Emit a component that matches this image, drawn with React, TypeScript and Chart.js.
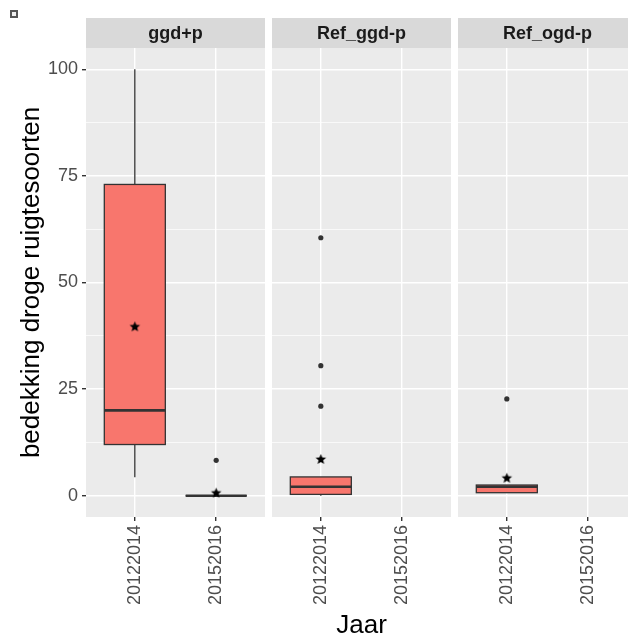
import React, { useEffect, useRef } from 'react';
import { Chart, registerables } from 'chart.js';

Chart.register(...registerables);

// ---------- data ----------
const PANELS = ['ggd+p', 'Ref_ggd-p', 'Ref_ogd-p'];
const CATEGORIES = ['20122014', '20152016'];
const Y_MAJOR_TICKS = [0, 25, 50, 75, 100];
const Y_MINOR_TICKS = [12.5, 37.5, 62.5, 87.5];
const Y_TITLE = 'bedekking droge ruigtesoorten';
const X_TITLE = 'Jaar';

// [lower whisker, Q1, median, Q3, upper whisker] per category (null = no data)
const ggdpBoxes = [[4.3, 12, 20, 73, 100], [0, 0, 0, 0, 0]];
const refGgdBoxes = [[0, 0.3, 2.1, 4.4, 4.4], null];
const refOgdBoxes = [[0.7, 0.7, 2.1, 2.5, 2.5], null];

// outliers per category
const ggdpOutliers = [[], [8.3]];
const refGgdOutliers = [[60.5, 30.5, 21], []];
const refOgdOutliers = [[22.7], []];

// means per category
const ggdpMeans = [39.6, 0.6];
const refGgdMeans = [8.5, null];
const refOgdMeans = [4.1, null];

const PANEL_BOXES = [ggdpBoxes, refGgdBoxes, refOgdBoxes];
const PANEL_OUTLIERS = [ggdpOutliers, refGgdOutliers, refOgdOutliers];
const PANEL_MEANS = [ggdpMeans, refGgdMeans, refOgdMeans];

// ---------- layout / style ----------
const W = 628;
const H = 641;
const PANEL_LEFT = [86, 272, 458];
const PANEL_W = 179;
const AXIS_W = 86;
const PANEL_TOP = 48;
const PANEL_BOTTOM = 517;
const STRIP_H = 30;
const FONT = "'Liberation Sans', Arial, sans-serif";
const BOX_FILL = '#F8766D';
const INK = '#333333';

function makeStar(r: number) {
  const c = document.createElement('canvas');
  const s = Math.ceil(r * 2 + 2);
  c.width = s;
  c.height = s;
  const ctx = c.getContext('2d')!;
  ctx.beginPath();
  for (let i = 0; i < 10; i++) {
    const a = -Math.PI / 2 + (i * Math.PI) / 5;
    const rr = i % 2 === 0 ? r : r * 0.45;
    ctx.lineTo(s / 2 + rr * Math.cos(a), s / 2 + rr * Math.sin(a));
  }
  ctx.closePath();
  ctx.fillStyle = '#000';
  ctx.fill();
  return c;
}

const panelDecor = {
  id: 'panelDecor',
  beforeDraw(chart: any, _args: any, opts: any) {
    const { ctx, chartArea } = chart;
    ctx.save();
    ctx.fillStyle = '#EBEBEB';
    ctx.fillRect(chartArea.left, chartArea.top, chartArea.right - chartArea.left, chartArea.bottom - chartArea.top);
    ctx.fillStyle = '#D9D9D9';
    ctx.fillRect(chartArea.left, chartArea.top - STRIP_H, chartArea.right - chartArea.left, STRIP_H);
    ctx.fillStyle = '#1A1A1A';
    ctx.font = `bold 18px ${FONT}`;
    ctx.textAlign = 'center';
    ctx.textBaseline = 'middle';
    ctx.fillText(opts.label, (chartArea.left + chartArea.right) / 2, chartArea.top - STRIP_H / 2 + 1);
    ctx.restore();
  },
};

const boxPlot = {
  id: 'boxPlot',
  beforeDatasetsDraw(chart: any, _args: any, opts: any) {
    const { ctx } = chart;
    const xs = chart.scales.x;
    const ys = chart.scales.y;
    const unit = xs.getPixelForValue(2) - xs.getPixelForValue(1);
    const half = unit * 0.375;
    ctx.save();
    (opts.boxes as (number[] | null)[]).forEach((b, i) => {
      if (!b) return;
      const [lo, q1, med, q3, hi] = b;
      const x = xs.getPixelForValue(i + 1);
      ctx.strokeStyle = INK;
      ctx.lineWidth = 1.3;
      ctx.beginPath();
      ctx.moveTo(x, ys.getPixelForValue(q3));
      ctx.lineTo(x, ys.getPixelForValue(hi));
      ctx.moveTo(x, ys.getPixelForValue(q1));
      ctx.lineTo(x, ys.getPixelForValue(lo));
      ctx.stroke();
      const top = ys.getPixelForValue(q3);
      const bot = ys.getPixelForValue(q1);
      ctx.fillStyle = BOX_FILL;
      ctx.fillRect(x - half, top, half * 2, bot - top);
      ctx.strokeRect(x - half, top, half * 2, bot - top);
      ctx.lineWidth = 2.6;
      ctx.beginPath();
      const my = ys.getPixelForValue(med);
      ctx.moveTo(x - half, my);
      ctx.lineTo(x + half, my);
      ctx.stroke();
    });
    ctx.restore();
  },
};

function buildChart(canvas: HTMLCanvasElement, index: number, star: HTMLCanvasElement) {
  const isFirst = index === 0;
  const outliers = PANEL_OUTLIERS[index].flatMap((vals, i) => vals.map((v) => ({ x: i + 1, y: v })));
  const means = PANEL_MEANS[index]
    .map((v, i) => (v == null ? null : { x: i + 1, y: v }))
    .filter((p) => p !== null);
  const yAll = [...Y_MAJOR_TICKS, ...Y_MINOR_TICKS].sort((a, b) => a - b);
  const isMajor = (v: number) => Y_MAJOR_TICKS.includes(v);

  return new Chart(canvas, {
    type: 'scatter',
    data: {
      datasets: [
        {
          data: outliers,
          pointRadius: 2.6,
          pointBackgroundColor: INK,
          pointBorderWidth: 0,
          pointBorderColor: INK,
        },
        {
          data: means as any,
          pointStyle: star as any,
          pointRadius: 5,
        },
      ],
    },
    options: {
      responsive: false,
      animation: false,
      layout: { autoPadding: false, padding: { top: PANEL_TOP, left: 0, right: 0, bottom: 0 } },
      plugins: {
        legend: { display: false },
        tooltip: { enabled: false },
        panelDecor: { label: PANELS[index] },
        boxPlot: { boxes: PANEL_BOXES[index] },
      } as any,
      scales: {
        x: {
          type: 'linear',
          min: 0.4,
          max: 2.6,
          afterBuildTicks: (s: any) => {
            s.ticks = CATEGORIES.map((_, i) => ({ value: i + 1 }));
          },
          afterFit: (s: any) => {
            s.height = H - PANEL_BOTTOM;
            s.paddingLeft = 0;
            s.paddingRight = 0;
          },
          ticks: {
            callback: (v: any) => CATEGORIES[Math.round(v) - 1] ?? '',
            minRotation: 90,
            maxRotation: 90,
            autoSkip: false,
            padding: 4,
            color: '#4D4D4D',
            font: { size: 18, family: FONT },
          },
          grid: { color: '#FFFFFF', lineWidth: 1.4, tickColor: INK, tickLength: 4, drawTicks: true },
          border: { display: false },
          title: {
            display: index === 1,
            text: X_TITLE,
            color: '#000',
            font: { size: 26, family: FONT },
            padding: { top: 0, bottom: 0 },
          },
        },
        y: {
          type: 'linear',
          min: -5,
          max: 105,
          afterBuildTicks: (s: any) => {
            s.ticks = yAll.map((v) => ({ value: v }));
          },
          afterFit: (s: any) => {
            s.width = isFirst ? AXIS_W : 0;
            s.paddingTop = 0;
            s.paddingBottom = 0;
          },
          ticks: {
            display: isFirst,
            autoSkip: false,
            callback: (v: any) => (isMajor(v) ? String(v) : ''),
            padding: 4,
            color: '#4D4D4D',
            font: { size: 18, family: FONT },
          },
          grid: {
            color: '#FFFFFF',
            lineWidth: (c: any) => (c.tick && isMajor(c.tick.value) ? 1.4 : 0.7),
            tickColor: (c: any) => (c.tick && isMajor(c.tick.value) ? INK : 'rgba(0,0,0,0)'),
            tickLength: 4,
            drawTicks: isFirst,
          },
          border: { display: false },
          title: {
            display: isFirst,
            text: Y_TITLE,
            color: '#000',
            font: { size: 26, family: FONT },
            padding: { top: 16, bottom: 0 },
          },
        },
      },
    },
    plugins: [panelDecor, boxPlot],
  });
}

export default function App() {
  const refs = [useRef<HTMLCanvasElement>(null), useRef<HTMLCanvasElement>(null), useRef<HTMLCanvasElement>(null)];

  useEffect(() => {
    const star = makeStar(5.5);
    const charts = refs.map((r, i) => buildChart(r.current!, i, star));
    return () => charts.forEach((c) => c.destroy());
  }, []);

  const canvasLeft = [0, PANEL_LEFT[1], PANEL_LEFT[2]];
  const canvasWidth = [PANEL_LEFT[0] + PANEL_W, PANEL_W, PANEL_W];

  return (
    <div style={{ position: 'absolute', left: 0, top: 0, width: W, height: H, overflow: 'hidden', background: '#fff' }}>
      <div
        style={{
          position: 'absolute',
          left: 10,
          top: 10,
          width: 4,
          height: 4,
          border: '2px solid #555',
          background: '#f0f0f0',
        }}
      />
      {refs.map((r, i) => (
        <canvas
          key={i}
          ref={r}
          width={canvasWidth[i]}
          height={H}
          style={{ position: 'absolute', left: canvasLeft[i], top: 0, width: canvasWidth[i], height: H }}
        />
      ))}
    </div>
  );
}
